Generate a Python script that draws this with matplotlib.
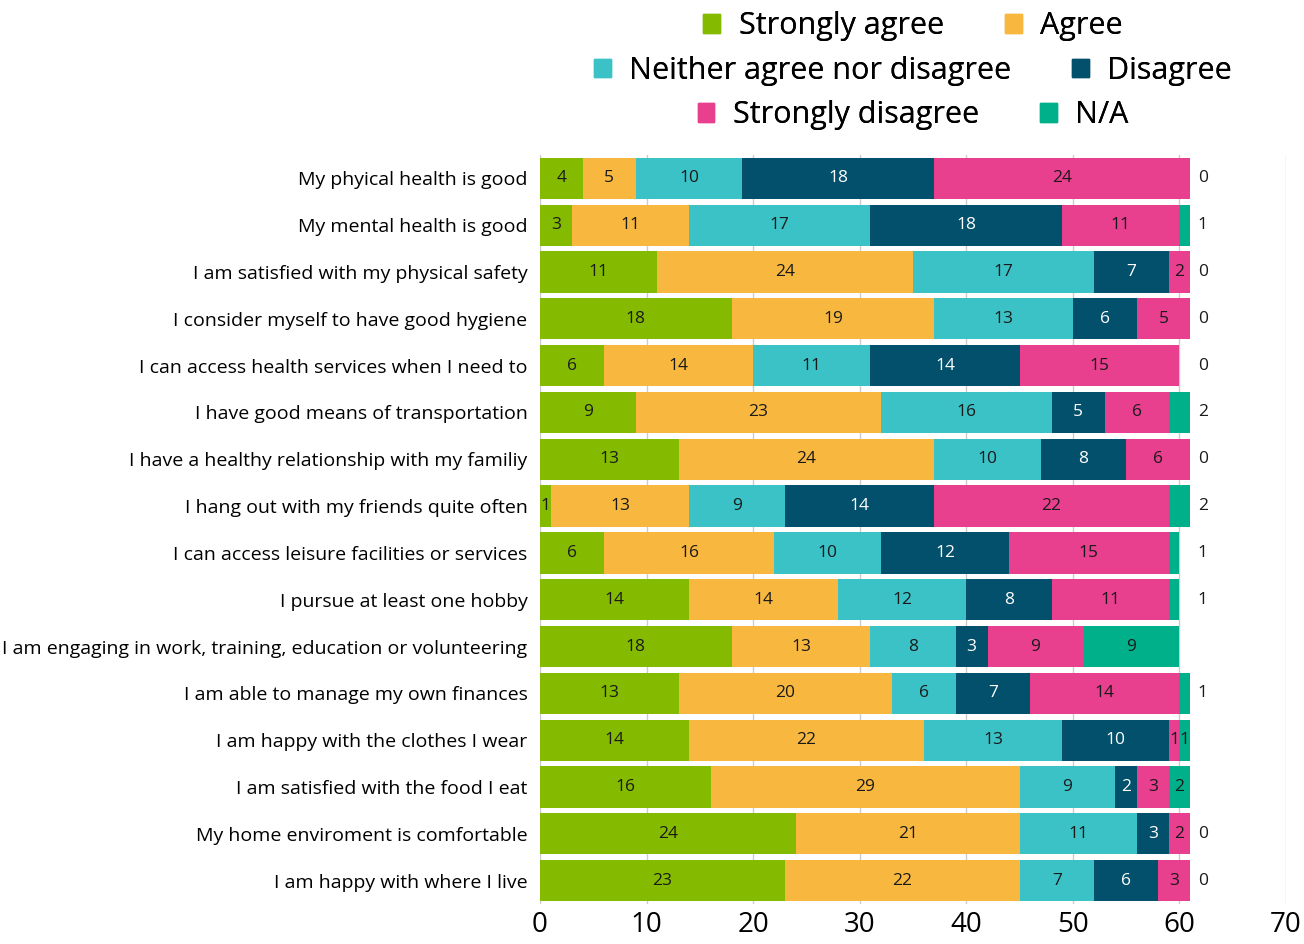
import matplotlib.pyplot as plt
from matplotlib.patches import Patch
import numpy as np

plt.rcParams['font.family'] = ['Open Sans', 'DejaVu Sans']

# Survey statements (top to bottom)
categories = [
    'My phyical health is good',
    'My mental health is good',
    'I am satisfied with my physical safety',
    'I consider myself to have good hygiene',
    'I can access health services when I need to',
    'I have good means of transportation',
    'I have a healthy relationship with my familiy',
    'I hang out with my friends quite often',
    'I can access leisure facilities or services',
    'I pursue at least one hobby',
    'I am engaging in work, training, education or volunteering',
    'I am able to manage my own finances',
    'I am happy with the clothes I wear',
    'I am satisfied with the food I eat',
    'My home enviroment is comfortable',
    'I am happy with where I live',
]

strongly_agree = [4, 3, 11, 18, 6, 9, 13, 1, 6, 14, 18, 13, 14, 16, 24, 23]
agree = [5, 11, 24, 19, 14, 23, 24, 13, 16, 14, 13, 20, 22, 29, 21, 22]
neither = [10, 17, 17, 13, 11, 16, 10, 9, 10, 12, 8, 6, 13, 9, 11, 7]
disagree = [18, 18, 7, 6, 14, 5, 8, 14, 12, 8, 3, 7, 10, 2, 3, 6]
strongly_disagree = [24, 11, 2, 5, 15, 6, 6, 22, 15, 11, 9, 14, 1, 3, 2, 3]
not_applicable = [0, 1, 0, 0, 0, 2, 0, 2, 1, 1, 9, 1, 1, 2, 0, 0]

# N/A label drawn inside its segment for these rows, outside otherwise
na_inside = [False, False, False, False, False, False, False, False,
             False, False, True, False, True, True, False, False]

series = [
    ('Strongly agree', strongly_agree, '#84BB00', '#1a1a1a'),
    ('Agree', agree, '#F8B73F', '#1a1a1a'),
    ('Neither agree nor disagree', neither, '#3BC2C6', '#1a1a1a'),
    ('Disagree', disagree, '#02506B', 'white'),
    ('Strongly disagree', strongly_disagree, '#E83F8F', '#1a1a1a'),
    ('N/A', not_applicable, '#00B08A', '#1a1a1a'),
]

fig = plt.figure(figsize=(13.04, 9.44), dpi=100)
ax = fig.add_axes([540 / 1304, 1 - 904 / 944, 746 / 1304, 749 / 944])

y = np.arange(len(categories))
left = np.zeros(len(categories))
for name, vals, color, tcolor in series:
    vals = np.array(vals)
    ax.barh(y, vals, left=left, height=0.88, color=color, zorder=2)
    for i, v in enumerate(vals):
        if name == 'N/A' and not na_inside[i]:
            continue
        if v > 0:
            ax.text(left[i] + v / 2, y[i], str(v), ha='center', va='center',
                    fontsize=12.5, color=tcolor, zorder=3)
    left += vals

# N/A values written to the right of the bars
for i, v in enumerate(not_applicable):
    if not na_inside[i]:
        ax.text(62.2, y[i], str(v), ha='center', va='center',
                fontsize=12.5, color='#1a1a1a')

ax.set_xlim(0, 70)
ax.set_ylim(len(categories) - 0.5, -0.5)
ax.set_xticks(range(0, 71, 10))
ax.set_yticks(y)
ax.set_yticklabels(categories, fontsize=14)
ax.tick_params(axis='x', labelsize=20, length=0, pad=5)
ax.tick_params(axis='y', length=0, pad=9)
ax.grid(axis='x', color='#cccccc', linewidth=1, zorder=0)
for s in ax.spines.values():
    s.set_visible(False)

# legend: three centred rows of two entries
rows = [(0, 1), (2, 3), (4, 5)]
row_y = [0.972, 0.925, 0.878]
for (a, b), yy in zip(rows, row_y):
    handles = [Patch(color=series[k][2], label=series[k][0]) for k in (a, b)]
    leg = fig.legend(handles=handles, ncol=2, loc='center',
                     bbox_to_anchor=(913 / 1304, yy), frameon=False,
                     fontsize=22, handlelength=0.55, handleheight=0.55,
                     handletextpad=0.6, columnspacing=2.0, borderpad=0)
    fig.add_artist(leg)

fig.savefig('out.png', dpi=100)
